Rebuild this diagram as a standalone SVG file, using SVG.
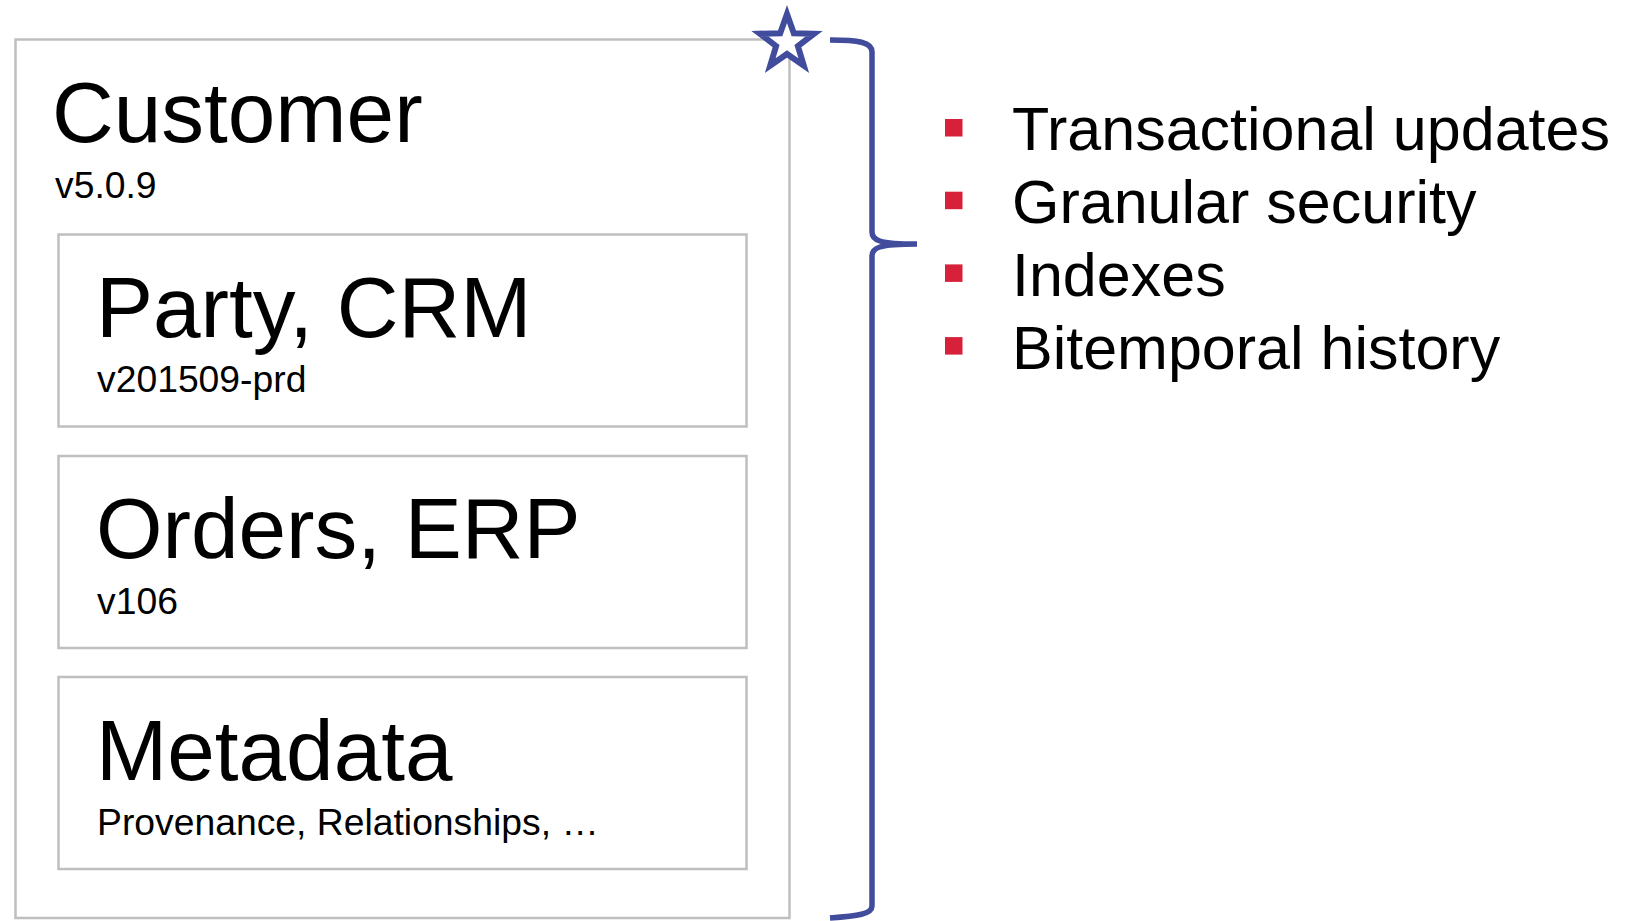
<svg xmlns="http://www.w3.org/2000/svg" width="1643" height="921" viewBox="0 0 1643 921">
  <style>
    .box { fill: #ffffff; stroke: #bfbfbf; stroke-width: 2.5; }
    .title { font-family: "Liberation Sans", Arial, sans-serif; font-size: 85.5px; fill: #000000; }
    .sub { font-family: "Liberation Sans", Arial, sans-serif; font-size: 37.3px; fill: #000000; }
    .item { font-family: "Liberation Sans", Arial, sans-serif; font-size: 61px; fill: #000000; }
    .mark { fill: #d7213b; }
    .accent { fill: none; stroke: #414c9c; stroke-width: 5.5; }
    .badge { fill: #ffffff; stroke: #414c9c; stroke-width: 6; }
  </style>
  <rect width="1643" height="921" fill="#ffffff"/>

  <!-- outer document -->
  <g id="customer">
    <rect class="box" x="15.5" y="39.5" width="774" height="878.5"/>
    <text class="title" x="52" y="142">Customer</text>
    <text class="sub" x="55" y="198">v5.0.9</text>
  </g>

  <g id="party-crm">
    <rect class="box" x="58.5" y="234.5" width="688" height="192"/>
    <text class="title" x="96" y="337">Party, CRM</text>
    <text class="sub" x="97" y="392">v201509-prd</text>
  </g>

  <g id="orders-erp">
    <rect class="box" x="58.5" y="456" width="688" height="192"/>
    <text class="title" x="96" y="558">Orders, ERP</text>
    <text class="sub" x="97" y="614">v106</text>
  </g>

  <g id="metadata">
    <rect class="box" x="58.5" y="677" width="688" height="192"/>
    <text class="title" x="96" y="780">Metadata</text>
    <text class="sub" x="97" y="835">Provenance, Relationships, …</text>
  </g>

  <!-- star badge on the corner -->
  <g id="star">
    <polygon class="badge"
      points="787,14 793.8,33.2 814.1,33.7 797.9,46.1 803.8,65.6 787,54 770.2,65.6 776.1,46.1 759.9,33.7 780.2,33.2"/>
  </g>

  <!-- brace grouping the document -->
  <g id="connectors">
    <path class="accent" d="M830,40 C858,40 872,42 872,52 L872,232 C872,240 878,244 917,244 M917,244 C878,244 872,248 872,256 L872,906 C872,914 858,916 830,918"/>
  </g>

  <!-- feature list -->
  <g id="features">
    <rect class="mark" x="945" y="119" width="17.5" height="17.5"/>
    <text class="item" x="1012" y="150">Transactional updates</text>
    <rect class="mark" x="945" y="191.7" width="17.5" height="17.5"/>
    <text class="item" x="1012" y="223">Granular security</text>
    <rect class="mark" x="945" y="264.4" width="17.5" height="17.5"/>
    <text class="item" x="1012" y="296">Indexes</text>
    <rect class="mark" x="945" y="337.1" width="17.5" height="17.5"/>
    <text class="item" x="1012" y="369">Bitemporal history</text>
  </g>
</svg>
